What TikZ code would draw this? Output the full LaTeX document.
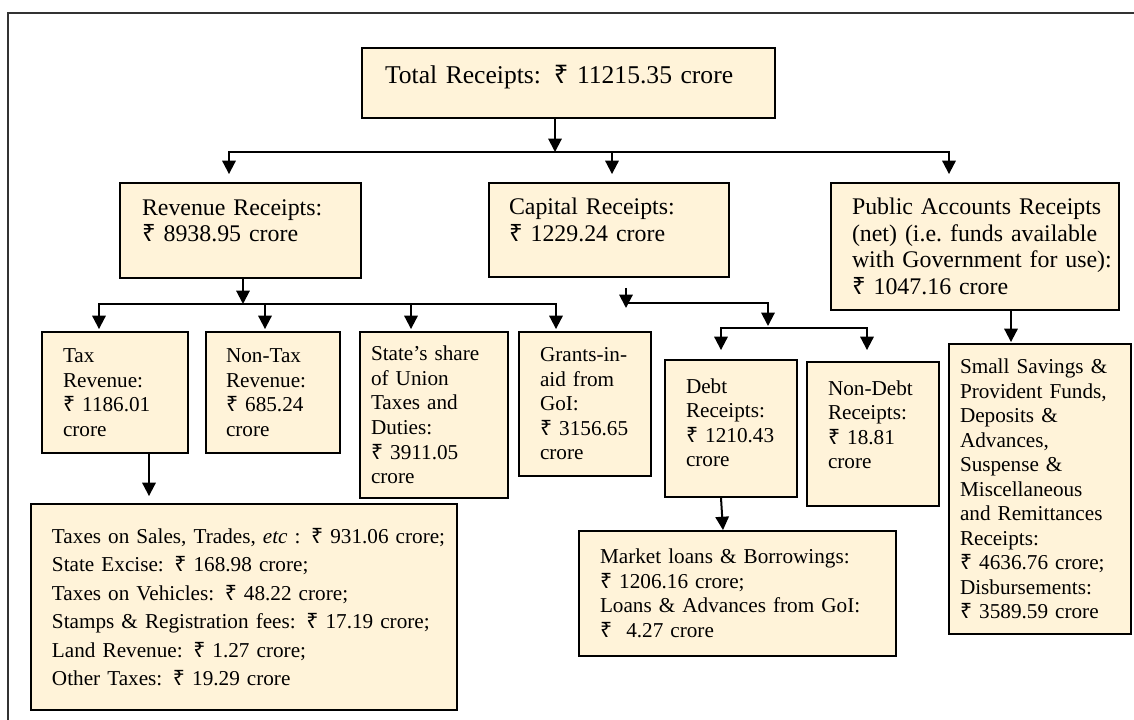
\documentclass[tikz,border=0pt]{standalone}
\usepackage{fontspec}
\setmainfont{Liberation Serif}
\newfontfamily\rupeefont{Noto Sans}
\usepackage{tikz}
\usetikzlibrary{arrows.meta,calc}
\definecolor{cream}{HTML}{FFF3D9}
\definecolor{rimgray}{HTML}{333333}
\newcommand{\Rs}{{\rupeefont ₹}}
\newcommand{\bodysize}{\fontsize{15.9pt}{18.4pt}\selectfont}
\newcommand{\listsize}{\fontsize{15.9pt}{21.3pt}\selectfont}
\newcommand{\topsize}{\fontsize{17.9pt}{20pt}\selectfont}
\newcommand{\headsize}{\fontsize{19.2pt}{22pt}\selectfont}
\tikzset{
  box/.style  = {rectangle, draw=black, fill=cream, line width=1.4pt, align=left,
                 inner xsep=0pt, inner ysep=2pt, font=\bodysize,
                 execute at begin node={\leftskip=#1}},
  box/.default = 15.75pt,
  flow/.style = {-{Triangle[length=10pt,width=10pt]}, line width=1.5pt},
  rim/.style  = {draw=rimgray, line width=0.8pt},
}
\begin{document}
\begin{tikzpicture}[x=0.75pt, y=-0.75pt]
  \useasboundingbox (0,0) rectangle (1134,720);
  \draw[rim] (1134,13) -- (8,13) -- (8,720);

  % top level
  \node[box=17.25pt, font=\headsize, text width=309.75pt, minimum height=52.5pt, text depth=13pt] (total) at (568.5,83)
    {Total Receipts: \Rs~11215.35 crore};

  % second level
  \node[box=16.5pt, font=\topsize, text width=180.75pt, minimum height=71.25pt, text depth=35pt] (rev) at (240.5,230.5)
    {Revenue Receipts:\\ \Rs~8938.95 crore};
  \node[box=15pt, font=\topsize, text width=180pt, minimum height=70.5pt, text depth=35pt] (cap) at (609,230)
    {Capital Receipts:\\ \Rs~1229.24 crore};
  \node[box, font=\topsize, text width=216pt, minimum height=95.25pt] (pub) at (975,246.5)
    {Public Accounts Receipts\\ (net) (i.e.\ funds available\\ with Government for use):\\ \Rs~1047.16 crore};

  % third level
  \node[box, text width=109.5pt, minimum height=90.75pt] (tax) at (115,392.5)
    {Tax\\ Revenue:\\ \Rs~1186.01\\ crore};
  \node[box=15pt, text width=100.5pt, minimum height=90.75pt] (ntax) at (273,392.5)
    {Non-Tax\\ Revenue:\\ \Rs~685.24\\ crore};
  \node[box=8.25pt, text width=111pt, minimum height=124.5pt] (state) at (434,415)
    {State’s share\\ of Union\\ Taxes and\\ Duties:\\ \Rs~3911.05\\ crore};
  \node[box, text width=99pt, minimum height=108pt] (grant) at (585,404)
    {Grants-in-\\ aid from\\ GoI:\\ \Rs~3156.65\\ crore};
  \node[box, text width=99pt, minimum height=102.75pt, text depth=64pt] (debt) at (731,428.5)
    {Debt\\ Receipts:\\ \Rs~1210.43\\ crore};
  \node[box, text width=99pt, minimum height=108pt, text depth=69pt] (ndebt) at (873,434)
    {Non-Debt\\ Receipts:\\ \Rs~18.81\\ crore};
  \node[box=8.25pt, text width=136.5pt, minimum height=217.5pt] (small) at (1040,489)
    {Small Savings \&\\ Provident Funds,\\ Deposits \&\\ Advances,\\ Suspense \&\\ Miscellaneous\\
     and Remittances\\ Receipts:\\ \Rs~4636.76 crore;\\ Disbursements:\\ \Rs~3589.59 crore};

  % bottom level
  \node[box, font=\listsize, text width=319.5pt, minimum height=154.5pt] (taxes) at (244,607)
    {Taxes on Sales, Trades, \textit{etc} : \Rs~931.06 crore;\\ State Excise: \Rs~168.98 crore;\\
     Taxes on Vehicles: \Rs~48.22 crore;\\ Stamps \& Registration fees: \Rs~17.19 crore;\\
     Land Revenue: \Rs~1.27 crore;\\ Other Taxes: \Rs~19.29 crore};
  \node[box, text width=237.75pt, minimum height=93.75pt] (market) at (737.5,593.5)
    {Market loans \& Borrowings:\\ \Rs~1206.16 crore;\\ Loans \& Advances from GoI:\\ \Rs~\ 4.27 crore};

  % connectors
  \coordinate (tbus) at (555,152);
  \draw[flow] (total.south -| tbus) -- (tbus);
  \draw[flow] (tbus) -| ($(rev.north)+(-11.5,-8)$);
  \draw[flow] (tbus) -| ($(cap.north)+(3,-8)$);
  \draw[flow] (tbus) -| ($(pub.north)+(-26,-8)$);

  \coordinate (rbus) at (243,304);
  \draw[flow] (rev.south -| rbus) -- (rbus);
  \draw[flow] (rbus) -| ($(tax.north)+(-16,-2)$);
  \draw[flow] (rbus) -| ($(ntax.north)+(-8,-2)$);
  \draw[flow] (rbus) -| ($(state.north)+(-23,-2)$);
  \draw[flow] (rbus) -| ($(grant.north)+(-29,-2)$);

  \coordinate (cbus) at (626,303);
  \coordinate (dbus) at (768,328);
  \draw[flow] ($(cap.south -| cbus)+(0,10)$) -- ($(cbus)+(0,5)$);
  \draw[flow] (cbus) -| ($(dbus)+(0,-2)$);
  \draw[flow] (dbus) -| ($(debt.north)+(-10,-9)$);
  \draw[flow] (dbus) -| ($(ndebt.north)+(-6,-11)$);

  \draw[flow] ($(tax.south)+(34,0)$) -- ($(taxes.north)+(-95,-7)$);
  \draw[flow] ($(debt.south)+(-10,0)$) -- ($(market.north)+(-14.5,0)$);
  \draw[flow] ($(pub.south)+(36,0)$) -- ($(small.north)+(-29,-1)$);
\end{tikzpicture}
\end{document}
